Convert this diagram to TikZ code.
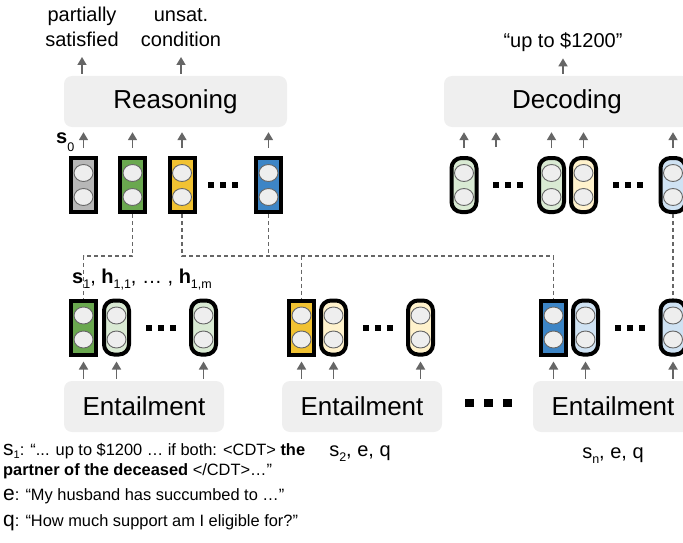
\documentclass[tikz,border=0pt]{standalone}
\usepackage{fontspec}
\setmainfont{Liberation Sans}
\usetikzlibrary{arrows.meta}
\definecolor{panelgray}{HTML}{EFEFEF}
\definecolor{arrgray}{HTML}{666666}
\definecolor{circfill}{HTML}{EEEEEE}
\definecolor{cgray}{HTML}{B7B7B7}
\definecolor{cgreen}{HTML}{6AA84F}
\definecolor{cyellow}{HTML}{F1C232}
\definecolor{cblue}{HTML}{3D85C6}
\definecolor{lgreen}{HTML}{D9EAD3}
\definecolor{lyellow}{HTML}{FFF2CC}
\definecolor{lblue}{HTML}{CFE2F3}
\newcommand\subx[2][5pt]{\raisebox{-#1}{\fontsize{12.5}{12.5}\selectfont #2}}
\newcommand\cellbox[5]{%
  \node[#5, fill=#4] (#1) at (#2,#3) {};
  \draw[circ] (#2,#3-12) ellipse (9.5pt and 8.5pt);
  \draw[circ] (#2,#3+12) ellipse (9.5pt and 8.5pt);
}
\newcommand\threedots[4]{%
  \foreach \i in {-1,0,1} {\fill (#1+\i*#4-#3/2, #2-#3/2) rectangle ++(#3,#3);}
}
\begin{document}
\begin{tikzpicture}[x=1pt,y=-1pt,
  panel/.style={fill=panelgray, rounded corners=8pt, minimum height=51pt, inner sep=0pt, font=\fontsize{26}{30}\selectfont},
  rcell/.style={draw=black, line width=4pt, minimum width=25pt, minimum height=54pt, inner sep=0pt},
  pcell/.style={rcell, rounded corners=10pt},
  circ/.style={fill=circfill, draw=arrgray, line width=0.9pt},
  arr/.style={draw=arrgray, line width=1.7pt, -{Triangle[length=8pt,width=9pt]}},
  dsh/.style={draw=arrgray, line width=1.1pt, dash pattern=on 4pt off 3pt},
  lab/.style={inner sep=0pt, font=\fontsize{20}{25}\selectfont, align=center},
  txt/.style={inner sep=0pt, anchor=base west, font=\fontsize{16.4}{19}\selectfont}
]
\useasboundingbox (0,0) rectangle (683,543);

% panels
\node[panel, minimum width=223pt] (reas) at (175.5,101.5) {Reasoning};
\node[panel, minimum width=246pt] (dec) at (567,101.5) {Decoding};
\node[panel, minimum width=160pt] (e1) at (144,406.5) {Entailment};
\node[panel, minimum width=160pt] (e2) at (362,406.5) {Entailment};
\node[panel, minimum width=160pt] (e3) at (613,406.5) {Entailment};

% top labels
\node[lab, anchor=south] (lab1) at (82,47) {partially\\satisfied};
\node[lab, anchor=south] (lab2) at (181,47) {unsat.\\condition};
\node[lab, anchor=base] (lab3) at (563,48) {“up to \$1200”};

% top row cells
\cellbox{g0}{83.5}{185}{cgray}{rcell}
\cellbox{g1}{132.5}{185}{cgreen}{rcell}
\cellbox{g2}{182}{185}{cyellow}{rcell}
\cellbox{g3}{268.5}{185}{cblue}{rcell}
\threedots{223}{185}{6}{12}

% decoding row cells
\cellbox{d1}{464}{185}{lgreen}{pcell}
\cellbox{d2}{551.5}{185}{lgreen}{pcell}
\cellbox{d3}{583.5}{185}{lyellow}{pcell}
\cellbox{d4}{673}{185}{lblue}{pcell}
\threedots{508}{185}{6}{12}
\threedots{627.5}{185}{6}{12}

% bottom row cells
\cellbox{c1}{83.5}{327.5}{cgreen}{rcell}
\cellbox{c2}{116.5}{327.5}{lgreen}{pcell}
\cellbox{c3}{203.5}{327.5}{lgreen}{pcell}
\cellbox{c4}{301.5}{327.5}{cyellow}{rcell}
\cellbox{c5}{333.5}{327.5}{lyellow}{pcell}
\cellbox{c6}{420.5}{327.5}{lyellow}{pcell}
\cellbox{c7}{553.5}{327.5}{cblue}{rcell}
\cellbox{c8}{585.5}{327.5}{lblue}{pcell}
\cellbox{c9}{673}{327.5}{lblue}{pcell}
\threedots{160.5}{327.5}{6}{12}
\threedots{378}{327.5}{6}{12}
\threedots{630}{327.5}{6}{12}
\threedots{488.5}{403}{8.5}{19}

% arrows above panels
\draw[arr] ([yshift=2pt]reas.north -| lab1.south) -- ([yshift=-10pt]lab1.south);
\draw[arr] ([yshift=2pt]reas.north -| lab2.south) -- ([yshift=-10pt]lab2.south);
\draw[arr] ([yshift=2pt]dec.north -| lab3.south) -- ([yshift=-6pt]lab3.south);

% arrows from top row into panels
\foreach \c in {g0,g1,g2,g3} {
  \draw[arr] ([yshift=8pt]\c.north) -- ([yshift=-5pt]reas.south -| \c.north);
}
\foreach \c in {d1,d2,d3,d4} {
  \draw[arr] ([yshift=8pt]\c.north) -- ([yshift=-5pt]dec.south -| \c.north);
}
\coordinate (dfree) at (496,147);
\draw[arr] (dfree) -- ([yshift=-5pt]dec.south -| dfree);

% arrows from entailment panels up into bottom cells
\foreach \c/\e in {c1/e1,c2/e1,c3/e1,c4/e2,c5/e2,c6/e2,c7/e3,c8/e3,c9/e3} {
  \draw[arr] ([yshift=2pt]\e.north -| \c.south) -- ([yshift=-5pt]\c.south);
}

% dashed links
\coordinate (lvl) at (0,256);
\draw[dsh] (g1.south) -- (g1.south |- lvl) -| (c1.north);
\draw[dsh] (g2.south) -- (g2.south |- lvl) -| (c7.north);
\draw[dsh] (g2.south |- lvl) -| (c4.north);
\draw[dsh] (g3.south) -- (g3.south |- lvl);
\draw[dsh] (d4.south) -- (c9.north);

% cell labels
\node[txt, font=\fontsize{20}{24}\selectfont] (s0lab) at (56,143) {\textbf{s}\subx[8pt]{0}};
\node[txt, font=\fontsize{20}{24}\selectfont] (hlab) at (72,283) {\textbf{s}\subx{1}, \textbf{h}\subx{1,1}, … , \textbf{h}\subx{1,m}};

% inputs
\node[txt, font=\fontsize{20}{24}\selectfont, anchor=base] (in2) at (360,456) {s\subx{2}, e, q};
\node[txt, font=\fontsize{20}{24}\selectfont, anchor=base] (in3) at (613,458) {s\subx{n}, e, q};

% bottom text
\node[txt] (t1) at (3,455) {{\fontsize{21}{21}\selectfont s}\raisebox{-3.5pt}{\fontsize{11}{11}\selectfont 1}: “... up to \$1200 … if both: <CDT> \textbf{the}};
\node[txt] (t2) at (3,475) {\textbf{partner of the deceased} </CDT>…”};
\node[txt] (t3) at (3,500) {{\fontsize{21}{21}\selectfont e}: “My husband has succumbed to …”};
\node[txt] (t4) at (3,526) {{\fontsize{21}{21}\selectfont q}: “How much support am I eligible for?”};
\end{tikzpicture}
\end{document}
